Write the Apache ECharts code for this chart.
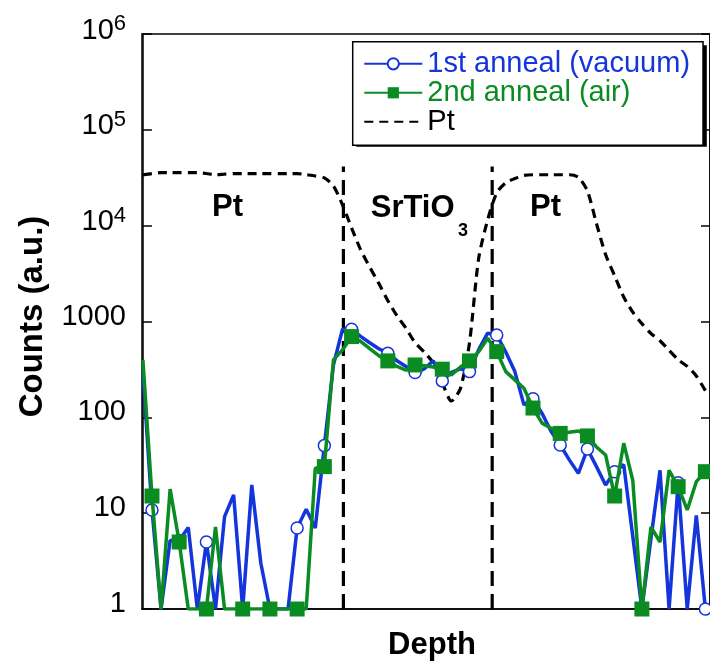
<!DOCTYPE html>
<html><head><meta charset="utf-8">
<script src="https://cdn.jsdelivr.net/npm/echarts@6/dist/echarts.min.js"></script>
<style>html,body{margin:0;padding:0;background:#fff;}#c{width:710px;height:672px;}</style>
</head><body><div id="c"></div>
<script>
// depth index (arbitrary units)
const depth = [0,1,2,3,4,5,6,7,8,9,10,11,12,13,14,15,16,17,18,19,20,21,22,23,24,25,26,27,28,29,30,31,32,33,34,35,36,37,38,39,40,41,42,43,44,45,46,47,48,49,50,51,52,53,54,55,56,57,58,59,60,61,62];
const vacuum = [300,10.8,1,5.2,5.2,7.1,1,5.0,1,9.2, 15.5,1,19.7,3.0,1,1,1,7.0,11,7.0, 50.7,350,830,832,700,600,520,467,390,340, 293,320,390,240,295,320,300,505,755,724, 480,300,135,156,110,71,51.5,36,26,46.8, 30.6,19.7,27.1,32,5.7,1,5.4,28,1,20.8, 1,9.5,1];
const air = [398,15.1,1,17.8,5.0,1,1,1,7.2,1, 1,1,1,1,1,1,1,1,1,29.4, 30.6,398,505,696,620,520,440,388,340,310, 352,345,335,318,277,335,388,482,670,485, 300,246,201,125,87,77,68,70,72,64, 49,40.5,15.1,53.7,22,1,7.2,5.0,28,18.9, 10.8,21.3,27.1];
const pt = [33900,35000,35800,35800,35800,35800,35800,35000,33900,34500, 35000,35000,35000,35000,35000,35000,35000,35000,34000,33000, 31500,26000,16500,9500,5600,3700,2500,1650,1150,850, 600,480,370,230,148,200,600,4500,11500,22000, 28000,31000,33500,34000,34000,34000,34000,34000,32000,23000, 10500,5000,3000,1800,1250,950,750,630,500,400, 340,270,190];
const markerIdx = [1,4,7,11,14,17,20,23,27,30,33,36,39,43,46,49,52,55,59,62];
const interfaces = [22.1, 38.5];
const interfaceTop = 41400;
const seriesNames = ['1st anneal (vacuum)', '2nd anneal (air)', 'Pt'];

const BLUE = '#1434dc';
const GREEN = '#0a8c23';
const FONT = '"Liberation Sans", Arial, Helvetica, sans-serif';

function withMarkers(vals, sym) {
  return depth.map((d, i) => ({ value: [d, vals[i]], symbol: markerIdx.includes(i) ? sym : 'none' }));
}

const chart = echarts.init(document.getElementById('c'), null, { renderer: 'canvas' });
const series = [
  {
    name: 'Pt', type: 'line', data: depth.map((d, i) => [d, pt[i]]), smooth: 0.25,
    symbol: 'none', lineStyle: { color: '#000', width: 3.2, type: [9, 6] }, itemStyle: { color: '#000' },
    z: 2, silent: true
  }
];
interfaces.forEach((x, k) => series.push({
  name: 'iface' + k, type: 'line', data: [[x, 1], [x, interfaceTop]], symbol: 'none',
  lineStyle: { color: '#000', width: 3.2, type: [15, 8] }, z: 2, silent: true
}));
series.push({
  name: seriesNames[0], type: 'line', data: withMarkers(vacuum, 'circle'), symbol: 'circle', symbolSize: 12,
  lineStyle: { color: BLUE, width: 3.5 }, itemStyle: { color: '#fff', borderColor: BLUE, borderWidth: 1.5 }, z: 3
});
series.push({
  name: seriesNames[1], type: 'line', data: withMarkers(air, 'rect'), symbol: 'rect', symbolSize: 15,
  lineStyle: { color: GREEN, width: 3.5 }, itemStyle: { color: GREEN }, z: 4
});

const yLabelStyle = {
  margin: 16, color: '#000', fontFamily: FONT, fontSize: 29, padding: [0, 0, 10, 0],
  formatter: v => {
    const e = Math.round(Math.log10(v));
    return v >= 1e4 ? '{b|10}{s|' + e + '}' : String(Math.round(v));
  },
  rich: {
    b: { fontSize: 29, fontFamily: FONT, color: '#000', verticalAlign: 'bottom' },
    s: { fontSize: 22, fontFamily: FONT, color: '#000', verticalAlign: 'bottom', padding: [0, 0, 10, 0] }
  }
};

chart.setOption({
  animation: false,
  backgroundColor: '#fff',
  grid: { left: 142, right: -2, top: 34, bottom: 63, show: true, borderColor: '#000', borderWidth: 1.5, backgroundColor: 'transparent' },
  xAxis: {
    type: 'value', min: -0.1, max: 62.51,
    axisLine: { show: true, lineStyle: { color: '#000', width: 1.5 } },
    axisTick: { show: false }, axisLabel: { show: false }, splitLine: { show: false },
    name: 'Depth', nameLocation: 'middle', nameGap: 21,
    nameTextStyle: { fontFamily: FONT, fontWeight: 'bold', fontSize: 31, color: '#000', padding: [0, 0, 0, 12] }
  },
  yAxis: [
    {
      type: 'log', logBase: 10, min: 1, max: 1e6, splitNumber: 6,
      axisLine: { show: true, lineStyle: { color: '#000', width: 1.5 } },
      axisTick: { show: true, inside: true, length: 9, lineStyle: { color: '#000', width: 1.5 } },
      minorTick: { show: false }, splitLine: { show: false },
      axisLabel: yLabelStyle,
      name: 'Counts (a.u.)', nameLocation: 'middle', nameGap: 93, nameRotate: 90,
      nameTextStyle: { fontFamily: FONT, fontWeight: 'bold', fontSize: 33, color: '#000', padding: [0, 0, 0, 10] }
    },
    {
      type: 'log', logBase: 10, min: 1, max: 1e6, splitNumber: 6, position: 'right',
      axisLine: { show: true, lineStyle: { color: '#000', width: 1.5 } },
      axisTick: { show: true, inside: true, length: 9, lineStyle: { color: '#000', width: 1.5 } },
      axisLabel: { show: false }, splitLine: { show: false }
    }
  ],
  legend: {
    orient: 'vertical', left: 352.7, top: 41.7, padding: [7.6, 13, 9, 10.6], z: 6,
    itemWidth: 58, itemHeight: 14, itemGap: 0, selectedMode: false,
    backgroundColor: '#fff', borderColor: '#000', borderWidth: 1.5,
    textStyle: { fontSize: 29, fontFamily: FONT, lineHeight: 28 },
    data: [
      { name: seriesNames[0], textStyle: { color: BLUE } },
      { name: seriesNames[1], textStyle: { color: GREEN } },
      { name: seriesNames[2], textStyle: { color: '#000' }, itemStyle: { opacity: 0 } }
    ]
  },
  graphic: [
    { type: 'rect', z: 5, shape: { x: 356.2, y: 45.2, width: 350.6, height: 101.6 }, style: { fill: '#000' } },
    { type: 'text', x: 212, y: 207.5, z: 10, style: { text: 'Pt', font: 'bold 31px ' + FONT, fill: '#000', textAlign: 'left', textVerticalAlign: 'middle' } },
    { type: 'text', x: 370.7, y: 208, z: 10, style: { text: 'SrTiO', font: 'bold 31px ' + FONT, fill: '#000', textAlign: 'left', textVerticalAlign: 'middle' } },
    { type: 'text', x: 458, y: 231.5, z: 10, style: { text: '3', font: 'bold 18px ' + FONT, fill: '#000', textAlign: 'left', textVerticalAlign: 'middle' } },
    { type: 'text', x: 530, y: 207.5, z: 10, style: { text: 'Pt', font: 'bold 31px ' + FONT, fill: '#000', textAlign: 'left', textVerticalAlign: 'middle' } }
  ],
  series: series
});
</script>
</body></html>
